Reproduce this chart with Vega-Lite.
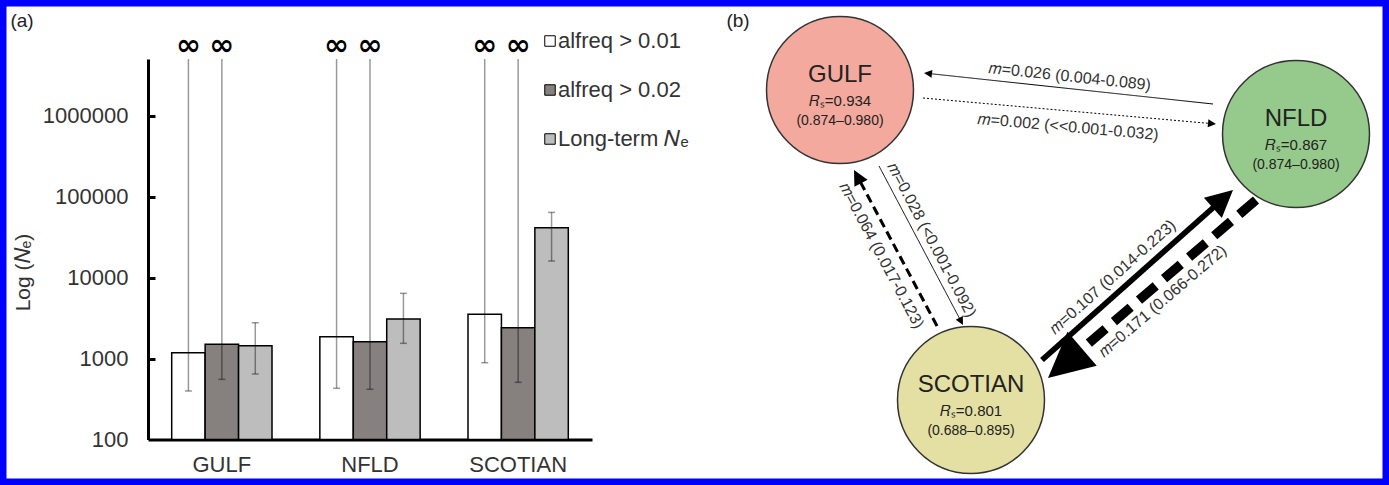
{
  "$schema": "https://vega.github.io/schema/vega-lite/v6.json",
  "width": 1389,
  "height": 485,
  "autosize": {"type": "fit", "contains": "padding"},
  "padding": 0,
  "background": "white",
  "config": {
    "view": {"stroke": "#0000ff", "strokeWidth": 13},
    "font": "Liberation Sans",
    "axis": {"grid": false}
  },
  "datasets": {
    "bars": [
      {"region": "GULF", "series": "alfreq > 0.01", "value": 1180, "lo": 397, "hi": null},
      {"region": "GULF", "series": "alfreq > 0.02", "value": 1497, "lo": 553, "hi": null},
      {"region": "GULF", "series": "Long-term 𝑁ₑ", "value": 1439, "lo": 644, "hi": 2767},
      {"region": "NFLD", "series": "alfreq > 0.01", "value": 1858, "lo": 429, "hi": null},
      {"region": "NFLD", "series": "alfreq > 0.02", "value": 1612, "lo": 417, "hi": null},
      {"region": "NFLD", "series": "Long-term 𝑁ₑ", "value": 3073, "lo": 1540, "hi": 6383},
      {"region": "SCOTIAN", "series": "alfreq > 0.01", "value": 3513, "lo": 888, "hi": null},
      {"region": "SCOTIAN", "series": "alfreq > 0.02", "value": 2400, "lo": 508, "hi": null},
      {"region": "SCOTIAN", "series": "Long-term 𝑁ₑ", "value": 41200, "lo": 15990, "hi": 63800}
    ],
    "nodes": [
      {"pop": "GULF", "x": 840, "y": 90, "Rs": "0.934", "ci": "(0.874–0.980)"},
      {"pop": "NFLD", "x": 1296, "y": 134, "Rs": "0.867", "ci": "(0.874–0.980)"},
      {"pop": "SCOTIAN", "x": 971, "y": 400, "Rs": "0.801", "ci": "(0.688–0.895)"}
    ],
    "edges": [
      {"from": "NFLD", "to": "GULF", "m": 0.026, "ci": "0.004-0.089", "x": 1213, "y": 104, "x2": 924, "y2": 73},
      {"from": "GULF", "to": "NFLD", "m": 0.002, "ci": "<<0.001-0.032", "x": 923, "y": 98, "x2": 1216, "y2": 124},
      {"from": "GULF", "to": "SCOTIAN", "m": 0.028, "ci": "<0.001-0.092", "x": 879, "y": 166, "x2": 963, "y2": 325},
      {"from": "SCOTIAN", "to": "GULF", "m": 0.064, "ci": "0.017-0.123", "x": 937, "y": 326, "x2": 854, "y2": 170},
      {"from": "SCOTIAN", "to": "NFLD", "m": 0.107, "ci": "0.014-0.223", "x": 1042, "y": 360, "x2": 1233, "y2": 190},
      {"from": "NFLD", "to": "SCOTIAN", "m": 0.171, "ci": "0.066-0.272", "x": 1256, "y": 200, "x2": 1048, "y2": 378}
    ],
    "panels": [
      {"label": "(a)", "x": 22, "y": 21},
      {"label": "(b)", "x": 738, "y": 21}
    ]
  },
  "layer": [
    {
      "data": {"name": "bars"},
      "transform": [{"calculate": "datum.hi == null ? 5000000 : datum.hi", "as": "top"}],
      "layer": [
        {
          "mark": {"type": "bar", "stroke": "black", "strokeWidth": 1.5},
          "encoding": {
            "x": {
              "field": "region", "type": "nominal",
              "scale": {"range": [148, 592], "paddingInner": 0.323, "paddingOuter": 0.16},
              "axis": {"orient": "bottom", "offset": -45.5, "title": null, "ticks": false, "labelAngle": 0, "labelFontSize": 22, "labelColor": "#333", "labelPadding": 15, "domainColor": "black", "domainWidth": 3}
            },
            "xOffset": {"field": "series", "type": "nominal", "scale": {"domain": ["alfreq > 0.01", "alfreq > 0.02", "Long-term 𝑁ₑ"], "paddingInner": 0, "paddingOuter": 0}},
            "y": {
              "field": "value", "type": "quantitative",
              "scale": {"type": "log", "domain": [100, 5000000], "nice": false, "range": [439.5, 59]},
              "axis": {"orient": "left", "offset": -148, "title": "Log (𝑁ₑ)", "titleFontSize": 21, "titleFontWeight": "normal", "titleColor": "#333", "titlePadding": 9, "titleY": 272, "values": [100, 1000, 10000, 100000, 1000000], "format": "d", "labelFontSize": 22, "labelColor": "#333", "labelPadding": 20, "ticks": false, "domainColor": "black", "domainWidth": 3}
            },
            "y2": {"datum": 100},
            "fill": {
              "field": "series", "type": "nominal",
              "scale": {"domain": ["alfreq > 0.01", "alfreq > 0.02", "Long-term 𝑁ₑ"], "range": ["#ffffff", "#86807f", "#bdbdbd"]},
              "legend": {"orient": "none", "legendX": 539, "legendY": 30, "title": null, "padding": 0, "symbolType": "square", "symbolSize": 110, "symbolStrokeColor": "black", "symbolStrokeWidth": 1, "labelFontSize": 22, "labelColor": "#333", "rowPadding": 27, "labelOffset": -3}
            }
          }
        },
        {
          "mark": {"type": "rule", "color": "black", "opacity": 0.4, "strokeWidth": 1.5},
          "encoding": {
            "x": {"field": "region", "type": "nominal"},
            "xOffset": {"field": "series", "type": "nominal"},
            "y": {"field": "lo", "type": "quantitative", "axis": {"orient": "right", "offset": -1241, "values": [1000, 10000, 100000, 1000000], "labels": false, "domain": false, "title": null, "ticks": true, "tickSize": 7, "tickWidth": 3, "tickColor": "black"}},
            "y2": {"field": "top"}
          }
        },
        {
          "transform": [{"fold": ["lo", "hi"], "as": ["end", "v"]}, {"filter": "datum.v != null"}],
          "mark": {"type": "tick", "color": "black", "opacity": 0.4, "size": 7, "thickness": 1.5},
          "encoding": {
            "x": {"field": "region", "type": "nominal"},
            "xOffset": {"field": "series", "type": "nominal"},
            "y": {"field": "v", "type": "quantitative", "axis": null}
          }
        },
        {
          "transform": [{"filter": "datum.hi == null"}],
          "mark": {"type": "text", "text": "∞", "fontSize": 30, "fontWeight": "bold", "font": "DejaVu Sans", "dy": -13, "color": "black"},
          "encoding": {
            "x": {"field": "region", "type": "nominal"},
            "xOffset": {"field": "series", "type": "nominal"},
            "y": {"field": "top", "type": "quantitative", "axis": null}
          }
        }
      ],
      "resolve": {"axis": {"y": "independent"}}
    },
    {
      "layer": [
        {
          "data": {"name": "nodes"},
          "mark": {"type": "point", "shape": "circle", "size": 21600, "filled": true, "opacity": 1, "stroke": "#333", "strokeWidth": 1.5},
          "encoding": {
            "x": {"field": "x", "type": "quantitative", "scale": {"domain": [0, 1389], "range": [0, 1389]}, "axis": null},
            "y": {"field": "y", "type": "quantitative", "scale": {"domain": [0, 485], "range": [0, 485]}, "axis": null},
            "fill": {"field": "pop", "type": "nominal", "scale": {"domain": ["GULF", "NFLD", "SCOTIAN"], "range": ["#f3a99e", "#96c98c", "#e4dfa2"]}, "legend": null}
          }
        },
        {
          "data": {"name": "edges"},
          "transform": [
            {"calculate": "datum.x2 - datum.x", "as": "ddx"},
            {"calculate": "datum.y2 - datum.y", "as": "ddy"},
            {"calculate": "sqrt(datum.ddx*datum.ddx + datum.ddy*datum.ddy)", "as": "len"},
            {"calculate": "max(8, 280*datum.m - 3)", "as": "hl"},
            {"calculate": "max(1, 60*datum.m - 0.8)", "as": "w"},
            {"calculate": "datum.x2 - datum.ddx/datum.len*datum.hl*0.8", "as": "xe"},
            {"calculate": "datum.y2 - datum.ddy/datum.len*datum.hl*0.8", "as": "ye"},
            {"calculate": "datum.from + '>' + datum.to", "as": "key"}
          ],
          "mark": {"type": "rule", "color": "black"},
          "encoding": {
            "x": {"field": "x", "type": "quantitative", "scale": {"domain": [0, 1389], "range": [0, 1389]}, "axis": null},
            "y": {"field": "y", "type": "quantitative", "scale": {"domain": [0, 485], "range": [0, 485]}, "axis": null},
            "x2": {"field": "xe"},
            "y2": {"field": "ye"},
            "strokeWidth": {"field": "w", "type": "quantitative", "scale": null},
            "strokeDash": {"field": "key", "type": "nominal", "scale": {"domain": ["NFLD>GULF", "GULF>NFLD", "GULF>SCOTIAN", "SCOTIAN>GULF", "SCOTIAN>NFLD", "NFLD>SCOTIAN"], "range": [[1, 0], [2, 2], [1, 0], [9, 5], [1, 0], [22, 11]]}, "legend": null}
          }
        },
        {
          "data": {"name": "edges"},
          "transform": [
            {"calculate": "datum.x2 - datum.x", "as": "ddx"},
            {"calculate": "datum.y2 - datum.y", "as": "ddy"},
            {"calculate": "max(8, 280*datum.m - 3)", "as": "hl"},
            {"calculate": "datum.hl*datum.hl", "as": "hs"},
            {"calculate": "atan2(datum.ddx, -datum.ddy)*180/PI", "as": "ang"}
          ],
          "mark": {"type": "point", "shape": "M0,0L1,2L-1,2Z", "filled": true, "color": "black", "opacity": 1},
          "encoding": {
            "x": {"field": "x2", "type": "quantitative", "scale": {"domain": [0, 1389], "range": [0, 1389]}, "axis": null},
            "y": {"field": "y2", "type": "quantitative", "scale": {"domain": [0, 485], "range": [0, 485]}, "axis": null},
            "size": {"field": "hs", "type": "quantitative", "scale": null},
            "angle": {"field": "ang", "type": "quantitative", "scale": null}
          }
        },
        {
          "data": {"name": "nodes"},
          "mark": {"type": "text", "fontSize": 24, "color": "#222", "dy": -15},
          "encoding": {
            "x": {"field": "x", "type": "quantitative", "scale": {"domain": [0, 1389], "range": [0, 1389]}, "axis": null},
            "y": {"field": "y", "type": "quantitative", "scale": {"domain": [0, 485], "range": [0, 485]}, "axis": null},
            "text": {"field": "pop"}
          }
        },
        {
          "data": {"name": "nodes"},
          "transform": [{"calculate": "'𝑅ₛ=' + datum.Rs", "as": "rs"}],
          "mark": {"type": "text", "fontSize": 15, "color": "#222", "dy": 11},
          "encoding": {
            "x": {"field": "x", "type": "quantitative", "scale": {"domain": [0, 1389], "range": [0, 1389]}, "axis": null},
            "y": {"field": "y", "type": "quantitative", "scale": {"domain": [0, 485], "range": [0, 485]}, "axis": null},
            "text": {"field": "rs"}
          }
        },
        {
          "data": {"name": "nodes"},
          "mark": {"type": "text", "fontSize": 14, "color": "#222", "dy": 31},
          "encoding": {
            "x": {"field": "x", "type": "quantitative", "scale": {"domain": [0, 1389], "range": [0, 1389]}, "axis": null},
            "y": {"field": "y", "type": "quantitative", "scale": {"domain": [0, 485], "range": [0, 485]}, "axis": null},
            "text": {"field": "ci"}
          }
        },
        {
          "data": {"name": "edges"},
          "transform": [
            {"filter": "(datum.from=='NFLD'&&datum.to=='GULF')||(datum.from=='GULF'&&datum.to=='SCOTIAN')"},
            {"calculate": "(datum.x + datum.x2)/2", "as": "mx"},
            {"calculate": "(datum.y + datum.y2)/2", "as": "my"},
            {"calculate": "atan2(datum.y2 - datum.y, datum.x2 - datum.x)*180/PI", "as": "ta0"},
            {"calculate": "datum.ta0 > 90 ? datum.ta0 - 180 : (datum.ta0 < -90 ? datum.ta0 + 180 : datum.ta0)", "as": "ta"},
            {"calculate": "'𝑚=' + format(datum.m, '.3f') + ' (' + datum.ci + ')'", "as": "label"}
          ],
          "mark": {"type": "text", "fontSize": 16, "color": "#333", "dy": -12},
          "encoding": {
            "x": {"field": "mx", "type": "quantitative", "scale": {"domain": [0, 1389], "range": [0, 1389]}, "axis": null},
            "y": {"field": "my", "type": "quantitative", "scale": {"domain": [0, 485], "range": [0, 485]}, "axis": null},
            "angle": {"field": "ta", "type": "quantitative", "scale": null},
            "text": {"field": "label"}
          }
        },
        {
          "data": {"name": "edges"},
          "transform": [
            {"filter": "datum.from=='SCOTIAN'&&datum.to=='NFLD'"},
            {"calculate": "(datum.x + datum.x2)/2", "as": "mx"},
            {"calculate": "(datum.y + datum.y2)/2", "as": "my"},
            {"calculate": "atan2(datum.y2 - datum.y, datum.x2 - datum.x)*180/PI", "as": "ta0"},
            {"calculate": "datum.ta0 > 90 ? datum.ta0 - 180 : (datum.ta0 < -90 ? datum.ta0 + 180 : datum.ta0)", "as": "ta"},
            {"calculate": "'𝑚=' + format(datum.m, '.3f') + ' (' + datum.ci + ')'", "as": "label"}
          ],
          "mark": {"type": "text", "fontSize": 16, "color": "#333", "dy": -15, "dx": -20},
          "encoding": {
            "x": {"field": "mx", "type": "quantitative", "scale": {"domain": [0, 1389], "range": [0, 1389]}, "axis": null},
            "y": {"field": "my", "type": "quantitative", "scale": {"domain": [0, 485], "range": [0, 485]}, "axis": null},
            "angle": {"field": "ta", "type": "quantitative", "scale": null},
            "text": {"field": "label"}
          }
        },
        {
          "data": {"name": "edges"},
          "transform": [
            {"filter": "!((datum.from=='NFLD'&&datum.to=='GULF')||(datum.from=='GULF'&&datum.to=='SCOTIAN')||(datum.from=='SCOTIAN'&&datum.to=='NFLD'))"},
            {"calculate": "(datum.x + datum.x2)/2", "as": "mx"},
            {"calculate": "(datum.y + datum.y2)/2", "as": "my"},
            {"calculate": "atan2(datum.y2 - datum.y, datum.x2 - datum.x)*180/PI", "as": "ta0"},
            {"calculate": "datum.ta0 > 90 ? datum.ta0 - 180 : (datum.ta0 < -90 ? datum.ta0 + 180 : datum.ta0)", "as": "ta"},
            {"calculate": "'𝑚=' + format(datum.m, '.3f') + ' (' + datum.ci + ')'", "as": "label"}
          ],
          "mark": {"type": "text", "fontSize": 16, "color": "#333", "dy": 16},
          "encoding": {
            "x": {"field": "mx", "type": "quantitative", "scale": {"domain": [0, 1389], "range": [0, 1389]}, "axis": null},
            "y": {"field": "my", "type": "quantitative", "scale": {"domain": [0, 485], "range": [0, 485]}, "axis": null},
            "angle": {"field": "ta", "type": "quantitative", "scale": null},
            "text": {"field": "label"}
          }
        },
        {
          "data": {"name": "panels"},
          "mark": {"type": "text", "fontSize": 19, "color": "#222"},
          "encoding": {
            "x": {"field": "x", "type": "quantitative", "scale": {"domain": [0, 1389], "range": [0, 1389]}, "axis": null},
            "y": {"field": "y", "type": "quantitative", "scale": {"domain": [0, 485], "range": [0, 485]}, "axis": null},
            "text": {"field": "label"}
          }
        }
      ]
    }
  ],
  "resolve": {"scale": {"x": "independent", "y": "independent", "fill": "independent"}}
}
